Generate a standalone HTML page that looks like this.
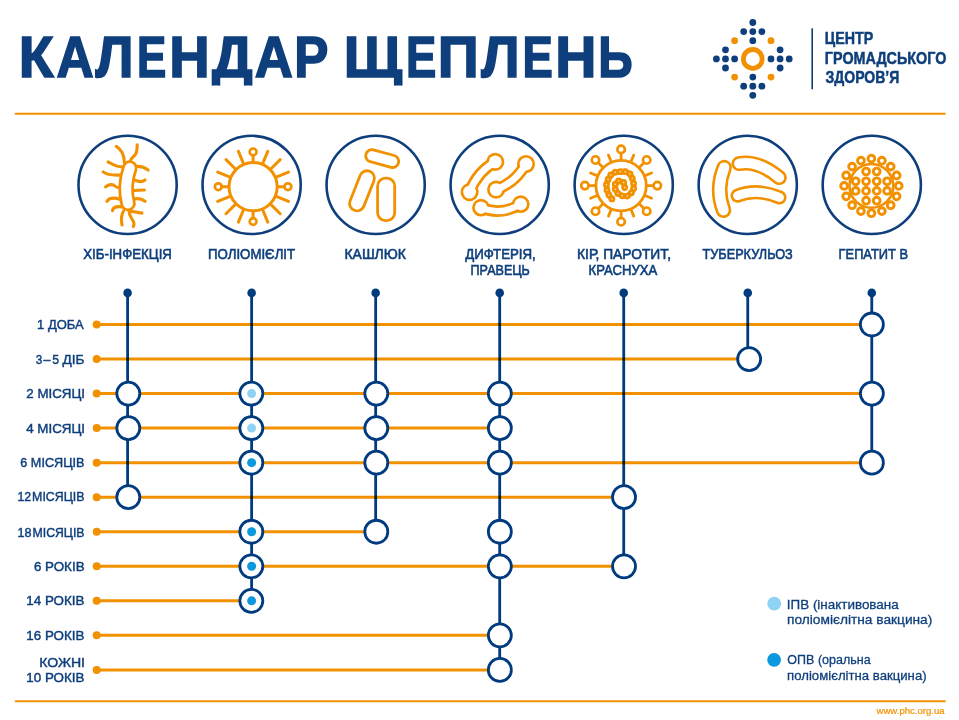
<!DOCTYPE html><html><head><meta charset="utf-8"><style>html,body{margin:0;padding:0;background:#fff;width:959px;height:720px;overflow:hidden}svg{display:block}text{font-family:"Liberation Sans",sans-serif}</style></head><body>
<svg width="959" height="720" viewBox="0 0 959 720">
<rect width="959" height="720" fill="#fff"/>
<defs><clipPath id="tc"><rect x="0" y="0" width="700" height="85.5"/></clipPath></defs>
<g clip-path="url(#tc)">
<text x="18.70" y="76.9" font-size="57" font-weight="bold" fill="#0e3f7c" stroke="#0e3f7c" stroke-width="1.6" textLength="34.85" lengthAdjust="spacingAndGlyphs">К</text>
<text x="56.47" y="76.9" font-size="57" font-weight="bold" fill="#0e3f7c" stroke="#0e3f7c" stroke-width="1.6" textLength="37.20" lengthAdjust="spacingAndGlyphs">А</text>
<text x="95.47" y="76.9" font-size="57" font-weight="bold" fill="#0e3f7c" stroke="#0e3f7c" stroke-width="1.6" textLength="37.97" lengthAdjust="spacingAndGlyphs">Л</text>
<text x="136.89" y="76.9" font-size="57" font-weight="bold" fill="#0e3f7c" stroke="#0e3f7c" stroke-width="1.6" textLength="29.28" lengthAdjust="spacingAndGlyphs">Е</text>
<text x="169.35" y="76.9" font-size="57" font-weight="bold" fill="#0e3f7c" stroke="#0e3f7c" stroke-width="1.6" textLength="40.46" lengthAdjust="spacingAndGlyphs">Н</text>
<text x="211.95" y="76.9" font-size="57" font-weight="bold" fill="#0e3f7c" stroke="#0e3f7c" stroke-width="1.6" textLength="40.66" lengthAdjust="spacingAndGlyphs">Д</text>
<text x="254.77" y="76.9" font-size="57" font-weight="bold" fill="#0e3f7c" stroke="#0e3f7c" stroke-width="1.6" textLength="38.11" lengthAdjust="spacingAndGlyphs">А</text>
<text x="294.21" y="76.9" font-size="57" font-weight="bold" fill="#0e3f7c" stroke="#0e3f7c" stroke-width="1.6" textLength="34.13" lengthAdjust="spacingAndGlyphs">Р</text>
<text x="343.68" y="76.9" font-size="57" font-weight="bold" fill="#0e3f7c" stroke="#0e3f7c" stroke-width="1.6" textLength="58.40" lengthAdjust="spacingAndGlyphs">Щ</text>
<text x="405.91" y="76.9" font-size="57" font-weight="bold" fill="#0e3f7c" stroke="#0e3f7c" stroke-width="1.6" textLength="30.30" lengthAdjust="spacingAndGlyphs">Е</text>
<text x="437.80" y="76.9" font-size="57" font-weight="bold" fill="#0e3f7c" stroke="#0e3f7c" stroke-width="1.6" textLength="40.97" lengthAdjust="spacingAndGlyphs">П</text>
<text x="481.28" y="76.9" font-size="57" font-weight="bold" fill="#0e3f7c" stroke="#0e3f7c" stroke-width="1.6" textLength="38.29" lengthAdjust="spacingAndGlyphs">Л</text>
<text x="522.61" y="76.9" font-size="57" font-weight="bold" fill="#0e3f7c" stroke="#0e3f7c" stroke-width="1.6" textLength="30.30" lengthAdjust="spacingAndGlyphs">Е</text>
<text x="555.30" y="76.9" font-size="57" font-weight="bold" fill="#0e3f7c" stroke="#0e3f7c" stroke-width="1.6" textLength="41.16" lengthAdjust="spacingAndGlyphs">Н</text>
<text x="598.28" y="76.9" font-size="57" font-weight="bold" fill="#0e3f7c" stroke="#0e3f7c" stroke-width="1.6" textLength="34.45" lengthAdjust="spacingAndGlyphs">Ь</text>
</g>
<text x="824.86" y="44.3" font-size="17" font-weight="bold" fill="#0e3f7c" stroke="#0e3f7c" stroke-width="0.5" textLength="48.35" lengthAdjust="spacingAndGlyphs">ЦЕНТР</text>
<text x="824.86" y="63.8" font-size="17" font-weight="bold" fill="#0e3f7c" stroke="#0e3f7c" stroke-width="0.5" textLength="121.47" lengthAdjust="spacingAndGlyphs">ГРОМАДСЬКОГО</text>
<text x="825.49" y="83.3" font-size="17" font-weight="bold" fill="#0e3f7c" stroke="#0e3f7c" stroke-width="0.5" textLength="73.86" lengthAdjust="spacingAndGlyphs">ЗДОРОВ’Я</text>
<text x="83.23" y="258.9" font-size="14.4" font-weight="normal" fill="#0e3f7c" stroke="#0e3f7c" stroke-width="0.6" textLength="88.68" lengthAdjust="spacingAndGlyphs">ХІБ-ІНФЕКЦІЯ</text>
<text x="208.06" y="258.9" font-size="14.4" font-weight="normal" fill="#0e3f7c" stroke="#0e3f7c" stroke-width="0.6" textLength="87.06" lengthAdjust="spacingAndGlyphs">ПОЛІОМІЄЛІТ</text>
<text x="344.54" y="258.9" font-size="14.4" font-weight="normal" fill="#0e3f7c" stroke="#0e3f7c" stroke-width="0.6" textLength="61.30" lengthAdjust="spacingAndGlyphs">КАШЛЮК</text>
<text x="465.23" y="258.9" font-size="14.4" font-weight="normal" fill="#0e3f7c" stroke="#0e3f7c" stroke-width="0.6" textLength="70.59" lengthAdjust="spacingAndGlyphs">ДИФТЕРІЯ,</text>
<text x="470.60" y="274.5" font-size="14.4" font-weight="normal" fill="#0e3f7c" stroke="#0e3f7c" stroke-width="0.6" textLength="59.26" lengthAdjust="spacingAndGlyphs">ПРАВЕЦЬ</text>
<text x="577.04" y="258.9" font-size="14.4" font-weight="normal" fill="#0e3f7c" stroke="#0e3f7c" stroke-width="0.6" textLength="93.97" lengthAdjust="spacingAndGlyphs">КІР, ПАРОТИТ,</text>
<text x="588.59" y="274.5" font-size="14.4" font-weight="normal" fill="#0e3f7c" stroke="#0e3f7c" stroke-width="0.6" textLength="68.65" lengthAdjust="spacingAndGlyphs">КРАСНУХА</text>
<text x="702.50" y="258.9" font-size="14.4" font-weight="normal" fill="#0e3f7c" stroke="#0e3f7c" stroke-width="0.6" textLength="90.26" lengthAdjust="spacingAndGlyphs">ТУБЕРКУЛЬОЗ</text>
<text x="838.61" y="258.9" font-size="14.4" font-weight="normal" fill="#0e3f7c" stroke="#0e3f7c" stroke-width="0.6" textLength="69.36" lengthAdjust="spacingAndGlyphs">ГЕПАТИТ В</text>
<text x="37.09" y="329.0" font-size="13.7" font-weight="normal" fill="#0e3f7c" stroke="#0e3f7c" stroke-width="0.45" textLength="46.61" lengthAdjust="spacingAndGlyphs">1 ДОБА</text>
<text x="26.31" y="398.08" font-size="13.7" font-weight="normal" fill="#0e3f7c" stroke="#0e3f7c" stroke-width="0.45" textLength="58.78" lengthAdjust="spacingAndGlyphs">2 МІСЯЦІ</text>
<text x="26.20" y="432.62" font-size="13.7" font-weight="normal" fill="#0e3f7c" stroke="#0e3f7c" stroke-width="0.45" textLength="58.89" lengthAdjust="spacingAndGlyphs">4 МІСЯЦІ</text>
<text x="20.34" y="467.15999999999997" font-size="13.7" font-weight="normal" fill="#0e3f7c" stroke="#0e3f7c" stroke-width="0.45" textLength="64.13" lengthAdjust="spacingAndGlyphs">6 МІСЯЦІВ</text>
<text x="33.91" y="570.78" font-size="13.7" font-weight="normal" fill="#0e3f7c" stroke="#0e3f7c" stroke-width="0.45" textLength="50.67" lengthAdjust="spacingAndGlyphs">6 РОКІВ</text>
<text x="26.37" y="605.3199999999999" font-size="13.7" font-weight="normal" fill="#0e3f7c" stroke="#0e3f7c" stroke-width="0.45" textLength="58.08" lengthAdjust="spacingAndGlyphs">14 РОКІВ</text>
<text x="26.37" y="639.86" font-size="13.7" font-weight="normal" fill="#0e3f7c" stroke="#0e3f7c" stroke-width="0.45" textLength="58.08" lengthAdjust="spacingAndGlyphs">16 РОКІВ</text>
<text x="35.69" y="363.54" font-size="13.7" font-weight="normal" fill="#0e3f7c" stroke="#0e3f7c" stroke-width="0.45" textLength="6.53" lengthAdjust="spacingAndGlyphs">3</text>
<text x="43.62" y="363.54" font-size="13.7" font-weight="normal" fill="#0e3f7c" stroke="#0e3f7c" stroke-width="0.45" textLength="6.86" lengthAdjust="spacingAndGlyphs">–</text>
<text x="52.28" y="363.54" font-size="13.7" font-weight="normal" fill="#0e3f7c" stroke="#0e3f7c" stroke-width="0.45" textLength="6.80" lengthAdjust="spacingAndGlyphs">5</text>
<text x="62.50" y="363.54" font-size="13.7" font-weight="normal" fill="#0e3f7c" stroke="#0e3f7c" stroke-width="0.45" textLength="21.97" lengthAdjust="spacingAndGlyphs">ДІБ</text>
<text x="17.43" y="501.4" font-size="13.7" font-weight="normal" fill="#0e3f7c" stroke="#0e3f7c" stroke-width="0.45" textLength="13.71" lengthAdjust="spacingAndGlyphs">12</text>
<text x="32.10" y="501.4" font-size="13.7" font-weight="normal" fill="#0e3f7c" stroke="#0e3f7c" stroke-width="0.45" textLength="52.43" lengthAdjust="spacingAndGlyphs">МІСЯЦІВ</text>
<text x="17.41" y="536.54" font-size="13.7" font-weight="normal" fill="#0e3f7c" stroke="#0e3f7c" stroke-width="0.45" textLength="14.04" lengthAdjust="spacingAndGlyphs">18</text>
<text x="32.50" y="536.54" font-size="13.7" font-weight="normal" fill="#0e3f7c" stroke="#0e3f7c" stroke-width="0.45" textLength="52.02" lengthAdjust="spacingAndGlyphs">МІСЯЦІВ</text>
<text x="39.17" y="666.6" font-size="13.7" font-weight="normal" fill="#0e3f7c" stroke="#0e3f7c" stroke-width="0.45" textLength="45.89" lengthAdjust="spacingAndGlyphs">КОЖНІ</text>
<text x="26.37" y="682" font-size="13.7" font-weight="normal" fill="#0e3f7c" stroke="#0e3f7c" stroke-width="0.45" textLength="58.08" lengthAdjust="spacingAndGlyphs">10 РОКІВ</text>
<text x="786.82" y="608.8" font-size="13.7" font-weight="normal" fill="#0e3f7c" stroke="#0e3f7c" stroke-width="0.3" textLength="111.87" lengthAdjust="spacingAndGlyphs">ІПВ (інактивована</text>
<text x="787.05" y="624.3" font-size="13.7" font-weight="normal" fill="#0e3f7c" stroke="#0e3f7c" stroke-width="0.3" textLength="145.28" lengthAdjust="spacingAndGlyphs">поліомієлітна вакцина)</text>
<text x="787.34" y="664.1" font-size="13.7" font-weight="normal" fill="#0e3f7c" stroke="#0e3f7c" stroke-width="0.3" textLength="83.29" lengthAdjust="spacingAndGlyphs">ОПВ (оральна</text>
<text x="787.08" y="679.7" font-size="13.7" font-weight="normal" fill="#0e3f7c" stroke="#0e3f7c" stroke-width="0.3" textLength="139.53" lengthAdjust="spacingAndGlyphs">поліомієлітна вакцина)</text>
<text x="876.50" y="714.1" font-size="9.5" font-weight="normal" fill="#f29100" stroke="#f29100" stroke-width="0.2" textLength="68.14" lengthAdjust="spacingAndGlyphs">www.phc.org.ua</text>
<circle cx="752.80" cy="22.50" r="3.4" fill="#0e3f7c"/>
<circle cx="743.70" cy="31.60" r="3.4" fill="#0e3f7c"/>
<circle cx="752.80" cy="31.60" r="3.4" fill="#0e3f7c"/>
<circle cx="761.90" cy="31.60" r="3.4" fill="#0e3f7c"/>
<circle cx="752.80" cy="40.70" r="3.4" fill="#0e3f7c"/>
<circle cx="725.50" cy="49.80" r="3.4" fill="#0e3f7c"/>
<circle cx="716.40" cy="58.90" r="3.4" fill="#0e3f7c"/>
<circle cx="725.50" cy="58.90" r="3.4" fill="#0e3f7c"/>
<circle cx="734.60" cy="58.90" r="3.4" fill="#0e3f7c"/>
<circle cx="725.50" cy="68.00" r="3.4" fill="#0e3f7c"/>
<circle cx="780.10" cy="49.80" r="3.4" fill="#0e3f7c"/>
<circle cx="771.00" cy="58.90" r="3.4" fill="#0e3f7c"/>
<circle cx="780.10" cy="58.90" r="3.4" fill="#0e3f7c"/>
<circle cx="789.20" cy="58.90" r="3.4" fill="#0e3f7c"/>
<circle cx="780.10" cy="68.00" r="3.4" fill="#0e3f7c"/>
<circle cx="752.80" cy="77.10" r="3.4" fill="#0e3f7c"/>
<circle cx="743.70" cy="86.20" r="3.4" fill="#0e3f7c"/>
<circle cx="752.80" cy="86.20" r="3.4" fill="#0e3f7c"/>
<circle cx="761.90" cy="86.20" r="3.4" fill="#0e3f7c"/>
<circle cx="752.80" cy="95.30" r="3.4" fill="#0e3f7c"/>
<circle cx="734.60" cy="40.70" r="3.4" fill="#f29100"/>
<circle cx="771.00" cy="40.70" r="3.4" fill="#f29100"/>
<circle cx="734.60" cy="77.10" r="3.4" fill="#f29100"/>
<circle cx="771.00" cy="77.10" r="3.4" fill="#f29100"/>
<circle cx="752.8" cy="58.9" r="9.4" fill="none" stroke="#f29100" stroke-width="4.8"/>
<rect x="811.4" y="28.3" width="1.6" height="61" fill="#0e3f7c"/>
<rect x="14.6" y="112.8" width="931.2" height="2" rx="1" fill="#f29100"/>
<rect x="14.6" y="700.2" width="931.2" height="2" rx="1" fill="#f29100"/>
<circle cx="127.60" cy="184.9" r="49.1" fill="none" stroke="#0e3f7c" stroke-width="2.6"/>
<circle cx="251.63" cy="184.9" r="49.1" fill="none" stroke="#0e3f7c" stroke-width="2.6"/>
<circle cx="375.66" cy="184.9" r="49.1" fill="none" stroke="#0e3f7c" stroke-width="2.6"/>
<circle cx="499.69" cy="184.9" r="49.1" fill="none" stroke="#0e3f7c" stroke-width="2.6"/>
<circle cx="623.72" cy="184.9" r="49.1" fill="none" stroke="#0e3f7c" stroke-width="2.6"/>
<circle cx="747.75" cy="184.9" r="49.1" fill="none" stroke="#0e3f7c" stroke-width="2.6"/>
<circle cx="871.78" cy="184.9" r="49.1" fill="none" stroke="#0e3f7c" stroke-width="2.6"/>
<g fill="none" stroke="#f29100" stroke-width="3.1" stroke-linecap="round">
<path d="M116.3,146.3 C121.5,150 124,154 124.5,163"/>
<path d="M137.2,144.7 C137.3,150 136,154.5 133.75,156.25 C131.5,158 130.5,159.5 130,162"/>
<path d="M108.1,161.9 C112,164 116,167 122,166.9"/>
<path d="M103.1,171.9 C107,175 112,175.5 121,175"/>
<path d="M105.6,186.9 C109,184 113,184 115,186 C117,188 118.5,188 120.5,188"/>
<path d="M106.9,201.3 C109,198 113,197 120.5,199.5"/>
<path d="M112.5,210.6 C113,207 116,206 122.5,206.9"/>
<path d="M133,167.5 C139,165 144,167 148.1,170"/>
<path d="M133.4,179.4 C138,182 142,182.5 145,180"/>
<path d="M132.5,190.6 C137,190.5 141,190 144.4,190"/>
<path d="M132.5,199.5 C137,198 142,199 145,201.3"/>
<path d="M130.5,211 C135,212 139,212.5 141.9,213.1"/>
<path d="M123.6,211 C121,215 121,220 122,225"/>
<path d="M129,211 C129.5,217 133,220 133.8,222.5 C134.2,224 133.8,225.5 133.3,226.5"/>
</g>
<path d="M129.8,168 Q123.5,186 128,203.4" fill="none" stroke="#f29100" stroke-width="15.60" stroke-linecap="round"/>
<path d="M129.8,168 Q123.5,186 128,203.4" fill="none" stroke="#fff" stroke-width="10.00" stroke-linecap="round"/>
<g fill="none" stroke="#f29100" stroke-width="3" stroke-linecap="round">
<circle cx="253.1" cy="186.7" r="24.1"/>
<line x1="253.10" y1="161.70" x2="253.10" y2="155.30"/>
<circle cx="253.10" cy="151.90" r="3.4" stroke-width="2.7"/>
<line x1="262.67" y1="163.60" x2="267.76" y2="151.32"/>
<line x1="270.78" y1="169.02" x2="280.18" y2="159.62"/>
<line x1="276.20" y1="177.13" x2="288.48" y2="172.04"/>
<line x1="278.10" y1="186.70" x2="284.50" y2="186.70"/>
<circle cx="287.90" cy="186.70" r="3.4" stroke-width="2.7"/>
<line x1="276.20" y1="196.27" x2="288.48" y2="201.36"/>
<line x1="270.78" y1="204.38" x2="280.18" y2="213.78"/>
<line x1="262.67" y1="209.80" x2="267.76" y2="222.08"/>
<line x1="253.10" y1="211.70" x2="253.10" y2="218.10"/>
<circle cx="253.10" cy="221.50" r="3.4" stroke-width="2.7"/>
<line x1="243.53" y1="209.80" x2="238.44" y2="222.08"/>
<line x1="235.42" y1="204.38" x2="226.02" y2="213.78"/>
<line x1="230.00" y1="196.27" x2="217.72" y2="201.36"/>
<line x1="228.10" y1="186.70" x2="221.70" y2="186.70"/>
<circle cx="218.30" cy="186.70" r="3.4" stroke-width="2.7"/>
<line x1="230.00" y1="177.13" x2="217.72" y2="172.04"/>
<line x1="235.42" y1="169.02" x2="226.02" y2="159.62"/>
<line x1="243.53" y1="163.60" x2="238.44" y2="151.32"/>
</g>
<path d="M371.80,155.80 L392.60,161.40" fill="none" stroke="#f29100" stroke-width="15.00" stroke-linecap="round"/>
<path d="M371.80,155.80 L392.60,161.40" fill="none" stroke="#fff" stroke-width="9.40" stroke-linecap="round"/>
<path d="M367.00,178.20 L357.00,203.40" fill="none" stroke="#f29100" stroke-width="17.60" stroke-linecap="round"/>
<path d="M367.00,178.20 L357.00,203.40" fill="none" stroke="#fff" stroke-width="12.00" stroke-linecap="round"/>
<rect x="377.6" y="178.2" width="17.1" height="42.4" rx="7.8" fill="#fff" stroke="#f29100" stroke-width="2.8"/>
<g><path d="M495.3,161.9 Q477.5,171.5 469.6,192.1" fill="none" stroke="#f29100" stroke-width="12.0"/>
<circle cx="495.3" cy="161.9" r="9.1" fill="#f29100"/><circle cx="469.6" cy="192.1" r="9.1" fill="#f29100"/>
<path d="M495.3,161.9 Q477.5,171.5 469.6,192.1" fill="none" stroke="#fff" stroke-width="6.6"/>
<circle cx="495.3" cy="161.9" r="6.3999999999999995" fill="#fff"/><circle cx="469.6" cy="192.1" r="6.3999999999999995" fill="#fff"/></g>
<g><path d="M526.0,164.0 Q515.0,183.0 496.1,189.6" fill="none" stroke="#f29100" stroke-width="12.0"/>
<circle cx="526.0" cy="164.0" r="9.1" fill="#f29100"/><circle cx="496.1" cy="189.6" r="9.1" fill="#f29100"/>
<path d="M526.0,164.0 Q515.0,183.0 496.1,189.6" fill="none" stroke="#fff" stroke-width="6.6"/>
<circle cx="526.0" cy="164.0" r="6.3999999999999995" fill="#fff"/><circle cx="496.1" cy="189.6" r="6.3999999999999995" fill="#fff"/></g>
<g><path d="M481.0,207.7 Q501.0,216.0 520.7,204.2" fill="none" stroke="#f29100" stroke-width="11.6"/>
<circle cx="481.0" cy="207.7" r="8.9" fill="#f29100"/><circle cx="520.7" cy="204.2" r="8.9" fill="#f29100"/>
<path d="M481.0,207.7 Q501.0,216.0 520.7,204.2" fill="none" stroke="#fff" stroke-width="6.199999999999999"/>
<circle cx="481.0" cy="207.7" r="6.2" fill="#fff"/><circle cx="520.7" cy="204.2" r="6.2" fill="#fff"/></g>
<g fill="none" stroke="#f29100" stroke-width="2.8" stroke-linecap="round">
<circle cx="621.1" cy="185.6" r="25.2"/>
<line x1="621.10" y1="159.60" x2="621.10" y2="153.30"/>
<circle cx="621.10" cy="149.40" r="3.75" stroke-width="2.6"/>
<line x1="631.05" y1="161.58" x2="633.73" y2="155.11"/>
<line x1="639.48" y1="167.22" x2="643.94" y2="162.76"/>
<circle cx="646.70" cy="160.00" r="3.75" stroke-width="2.6"/>
<line x1="645.12" y1="175.65" x2="651.59" y2="172.97"/>
<line x1="647.10" y1="185.60" x2="653.40" y2="185.60"/>
<circle cx="657.30" cy="185.60" r="3.75" stroke-width="2.6"/>
<line x1="645.12" y1="195.55" x2="651.59" y2="198.23"/>
<line x1="639.48" y1="203.98" x2="643.94" y2="208.44"/>
<circle cx="646.70" cy="211.20" r="3.75" stroke-width="2.6"/>
<line x1="631.05" y1="209.62" x2="633.73" y2="216.09"/>
<line x1="621.10" y1="211.60" x2="621.10" y2="217.90"/>
<circle cx="621.10" cy="221.80" r="3.75" stroke-width="2.6"/>
<line x1="611.15" y1="209.62" x2="608.47" y2="216.09"/>
<line x1="602.72" y1="203.98" x2="598.26" y2="208.44"/>
<circle cx="595.50" cy="211.20" r="3.75" stroke-width="2.6"/>
<line x1="597.08" y1="195.55" x2="590.61" y2="198.23"/>
<line x1="595.10" y1="185.60" x2="588.80" y2="185.60"/>
<circle cx="584.90" cy="185.60" r="3.75" stroke-width="2.6"/>
<line x1="597.08" y1="175.65" x2="590.61" y2="172.97"/>
<line x1="602.72" y1="167.22" x2="598.26" y2="162.76"/>
<circle cx="595.50" cy="160.00" r="3.75" stroke-width="2.6"/>
<line x1="611.15" y1="161.58" x2="608.47" y2="155.11"/>
</g>
<path d="M611.94,198.89 L608.89,195.00 L606.94,190.00 L606.39,184.72 L608.06,179.44 L610.83,175.00 L615.28,172.22 L620.28,171.67 L625.28,171.67 L630.00,173.89 L632.22,178.33 L633.61,183.61 L633.61,188.61 L631.39,192.78 L627.22,196.11 L622.22,195.83 L617.78,193.33 L615.28,189.17 L615.28,184.17 L618.61,180.83 L623.61,182.50 L624.72,187.50" fill="none" stroke="#f29100" stroke-width="5.6" stroke-linecap="round" stroke-linejoin="round"/>
<circle cx="611.94" cy="198.89" r="3.4" fill="#f29100"/>
<circle cx="608.89" cy="195.00" r="3.4" fill="#f29100"/>
<circle cx="606.94" cy="190.00" r="3.4" fill="#f29100"/>
<circle cx="606.39" cy="184.72" r="3.4" fill="#f29100"/>
<circle cx="608.06" cy="179.44" r="3.4" fill="#f29100"/>
<circle cx="610.83" cy="175.00" r="3.4" fill="#f29100"/>
<circle cx="615.28" cy="172.22" r="3.4" fill="#f29100"/>
<circle cx="620.28" cy="171.67" r="3.4" fill="#f29100"/>
<circle cx="625.28" cy="171.67" r="3.4" fill="#f29100"/>
<circle cx="630.00" cy="173.89" r="3.4" fill="#f29100"/>
<circle cx="632.22" cy="178.33" r="3.4" fill="#f29100"/>
<circle cx="633.61" cy="183.61" r="3.4" fill="#f29100"/>
<circle cx="633.61" cy="188.61" r="3.4" fill="#f29100"/>
<circle cx="631.39" cy="192.78" r="3.4" fill="#f29100"/>
<circle cx="627.22" cy="196.11" r="3.4" fill="#f29100"/>
<circle cx="622.22" cy="195.83" r="3.4" fill="#f29100"/>
<circle cx="617.78" cy="193.33" r="3.4" fill="#f29100"/>
<circle cx="615.28" cy="189.17" r="3.4" fill="#f29100"/>
<circle cx="615.28" cy="184.17" r="3.4" fill="#f29100"/>
<circle cx="618.61" cy="180.83" r="3.4" fill="#f29100"/>
<circle cx="623.61" cy="182.50" r="3.4" fill="#f29100"/>
<circle cx="624.72" cy="187.50" r="3.4" fill="#f29100"/>
<circle cx="611.94" cy="198.89" r="0.75" fill="#fff" fill-opacity="0.8"/>
<circle cx="608.89" cy="195.00" r="0.75" fill="#fff" fill-opacity="0.8"/>
<circle cx="606.94" cy="190.00" r="0.75" fill="#fff" fill-opacity="0.8"/>
<circle cx="606.39" cy="184.72" r="0.75" fill="#fff" fill-opacity="0.8"/>
<circle cx="608.06" cy="179.44" r="0.75" fill="#fff" fill-opacity="0.8"/>
<circle cx="610.83" cy="175.00" r="0.75" fill="#fff" fill-opacity="0.8"/>
<circle cx="615.28" cy="172.22" r="0.75" fill="#fff" fill-opacity="0.8"/>
<circle cx="620.28" cy="171.67" r="0.75" fill="#fff" fill-opacity="0.8"/>
<circle cx="625.28" cy="171.67" r="0.75" fill="#fff" fill-opacity="0.8"/>
<circle cx="630.00" cy="173.89" r="0.75" fill="#fff" fill-opacity="0.8"/>
<circle cx="632.22" cy="178.33" r="0.75" fill="#fff" fill-opacity="0.8"/>
<circle cx="633.61" cy="183.61" r="0.75" fill="#fff" fill-opacity="0.8"/>
<circle cx="633.61" cy="188.61" r="0.75" fill="#fff" fill-opacity="0.8"/>
<circle cx="631.39" cy="192.78" r="0.75" fill="#fff" fill-opacity="0.8"/>
<circle cx="627.22" cy="196.11" r="0.75" fill="#fff" fill-opacity="0.8"/>
<circle cx="622.22" cy="195.83" r="0.75" fill="#fff" fill-opacity="0.8"/>
<circle cx="617.78" cy="193.33" r="0.75" fill="#fff" fill-opacity="0.8"/>
<circle cx="615.28" cy="189.17" r="0.75" fill="#fff" fill-opacity="0.8"/>
<circle cx="615.28" cy="184.17" r="0.75" fill="#fff" fill-opacity="0.8"/>
<circle cx="618.61" cy="180.83" r="0.75" fill="#fff" fill-opacity="0.8"/>
<circle cx="623.61" cy="182.50" r="0.75" fill="#fff" fill-opacity="0.8"/>
<circle cx="624.72" cy="187.50" r="0.75" fill="#fff" fill-opacity="0.8"/>
<path d="M724.2,167.6 Q715.5,188.9 723.5,210.2" fill="none" stroke="#f29100" stroke-width="15.60" stroke-linecap="round"/>
<path d="M724.2,167.6 Q715.5,188.9 723.5,210.2" fill="none" stroke="#fff" stroke-width="10.40" stroke-linecap="round"/>
<path d="M739,163.6 Q758,160 779.3,177.6" fill="none" stroke="#f29100" stroke-width="15.00" stroke-linecap="round"/>
<path d="M739,163.6 Q758,160 779.3,177.6" fill="none" stroke="#fff" stroke-width="9.80" stroke-linecap="round"/>
<path d="M737.6,195.6 Q757,188 779.4,197.4" fill="none" stroke="#f29100" stroke-width="14.20" stroke-linecap="round"/>
<path d="M737.6,195.6 Q757,188 779.4,197.4" fill="none" stroke="#fff" stroke-width="9.00" stroke-linecap="round"/>
<g fill="none" stroke="#f29100" stroke-width="2.9">
<circle cx="871.4" cy="185.9" r="21.9" stroke-width="2.6"/>
<circle cx="871.40" cy="158.60" r="3.4" fill="#fff"/>
<circle cx="881.85" cy="160.68" r="3.4" fill="#fff"/>
<circle cx="890.70" cy="166.60" r="3.4" fill="#fff"/>
<circle cx="896.62" cy="175.45" r="3.4" fill="#fff"/>
<circle cx="898.70" cy="185.90" r="3.4" fill="#fff"/>
<circle cx="896.62" cy="196.35" r="3.4" fill="#fff"/>
<circle cx="890.70" cy="205.20" r="3.4" fill="#fff"/>
<circle cx="881.85" cy="211.12" r="3.4" fill="#fff"/>
<circle cx="871.40" cy="213.20" r="3.4" fill="#fff"/>
<circle cx="860.95" cy="211.12" r="3.4" fill="#fff"/>
<circle cx="852.10" cy="205.20" r="3.4" fill="#fff"/>
<circle cx="846.18" cy="196.35" r="3.4" fill="#fff"/>
<circle cx="844.10" cy="185.90" r="3.4" fill="#fff"/>
<circle cx="846.18" cy="175.45" r="3.4" fill="#fff"/>
<circle cx="852.10" cy="166.60" r="3.4" fill="#fff"/>
<circle cx="860.95" cy="160.68" r="3.4" fill="#fff"/>
<circle cx="866.10" cy="171.50" r="3.4" fill="#fff"/>
<circle cx="876.70" cy="171.50" r="3.4" fill="#fff"/>
<circle cx="855.70" cy="181.30" r="3.4" fill="#fff"/>
<circle cx="866.10" cy="181.30" r="3.4" fill="#fff"/>
<circle cx="876.70" cy="181.30" r="3.4" fill="#fff"/>
<circle cx="887.10" cy="181.30" r="3.4" fill="#fff"/>
<circle cx="855.70" cy="190.90" r="3.4" fill="#fff"/>
<circle cx="866.10" cy="190.90" r="3.4" fill="#fff"/>
<circle cx="876.70" cy="190.90" r="3.4" fill="#fff"/>
<circle cx="887.10" cy="190.90" r="3.4" fill="#fff"/>
<circle cx="866.10" cy="200.70" r="3.4" fill="#fff"/>
<circle cx="876.70" cy="200.70" r="3.4" fill="#fff"/>
</g>
<line x1="96.7" y1="324.50" x2="871.78" y2="324.50" stroke="#f29100" stroke-width="3"/>
<circle cx="96.7" cy="324.50" r="4" fill="#f29100"/>
<line x1="96.7" y1="359.04" x2="747.75" y2="359.04" stroke="#f29100" stroke-width="3"/>
<circle cx="96.7" cy="359.04" r="4" fill="#f29100"/>
<line x1="96.7" y1="393.58" x2="871.78" y2="393.58" stroke="#f29100" stroke-width="3"/>
<circle cx="96.7" cy="393.58" r="4" fill="#f29100"/>
<line x1="96.7" y1="428.12" x2="499.69" y2="428.12" stroke="#f29100" stroke-width="3"/>
<circle cx="96.7" cy="428.12" r="4" fill="#f29100"/>
<line x1="96.7" y1="462.66" x2="871.78" y2="462.66" stroke="#f29100" stroke-width="3"/>
<circle cx="96.7" cy="462.66" r="4" fill="#f29100"/>
<line x1="96.7" y1="497.20" x2="623.72" y2="497.20" stroke="#f29100" stroke-width="3"/>
<circle cx="96.7" cy="497.20" r="4" fill="#f29100"/>
<line x1="96.7" y1="531.74" x2="375.66" y2="531.74" stroke="#f29100" stroke-width="3"/>
<circle cx="96.7" cy="531.74" r="4" fill="#f29100"/>
<line x1="96.7" y1="566.28" x2="623.72" y2="566.28" stroke="#f29100" stroke-width="3"/>
<circle cx="96.7" cy="566.28" r="4" fill="#f29100"/>
<line x1="96.7" y1="600.82" x2="251.63" y2="600.82" stroke="#f29100" stroke-width="3"/>
<circle cx="96.7" cy="600.82" r="4" fill="#f29100"/>
<line x1="96.7" y1="635.36" x2="499.69" y2="635.36" stroke="#f29100" stroke-width="3"/>
<circle cx="96.7" cy="635.36" r="4" fill="#f29100"/>
<line x1="96.7" y1="669.90" x2="499.69" y2="669.90" stroke="#f29100" stroke-width="3"/>
<circle cx="96.7" cy="669.90" r="4" fill="#f29100"/>
<g style="mix-blend-mode:multiply">
<line x1="127.60" y1="292.9" x2="127.60" y2="497.20" stroke="#003b80" stroke-width="2.8"/>
<line x1="251.63" y1="292.9" x2="251.63" y2="600.82" stroke="#003b80" stroke-width="2.8"/>
<line x1="375.66" y1="292.9" x2="375.66" y2="531.74" stroke="#003b80" stroke-width="2.8"/>
<line x1="499.69" y1="292.9" x2="499.69" y2="669.90" stroke="#003b80" stroke-width="2.8"/>
<line x1="623.72" y1="292.9" x2="623.72" y2="566.28" stroke="#003b80" stroke-width="2.8"/>
<line x1="747.75" y1="292.9" x2="747.75" y2="359.04" stroke="#003b80" stroke-width="2.8"/>
<line x1="871.78" y1="292.9" x2="871.78" y2="462.66" stroke="#003b80" stroke-width="2.8"/>
</g>
<circle cx="127.60" cy="292.9" r="4.3" fill="#003b80"/>
<circle cx="128.30" cy="393.58" r="11.5" fill="#fff" stroke="#003b80" stroke-width="2.8"/>
<circle cx="128.30" cy="428.12" r="11.5" fill="#fff" stroke="#003b80" stroke-width="2.8"/>
<circle cx="128.30" cy="497.20" r="11.5" fill="#fff" stroke="#003b80" stroke-width="2.8"/>
<circle cx="251.63" cy="292.9" r="4.3" fill="#003b80"/>
<circle cx="251.33" cy="393.58" r="11.5" fill="#fff" stroke="#003b80" stroke-width="2.8"/>
<circle cx="251.63" cy="393.58" r="4.5" fill="#8fd3f4"/>
<circle cx="251.33" cy="428.12" r="11.5" fill="#fff" stroke="#003b80" stroke-width="2.8"/>
<circle cx="251.63" cy="428.12" r="4.5" fill="#8fd3f4"/>
<circle cx="251.33" cy="462.66" r="11.5" fill="#fff" stroke="#003b80" stroke-width="2.8"/>
<circle cx="251.63" cy="462.66" r="4.5" fill="#0b98de"/>
<circle cx="251.33" cy="531.74" r="11.5" fill="#fff" stroke="#003b80" stroke-width="2.8"/>
<circle cx="251.63" cy="531.74" r="4.5" fill="#0b98de"/>
<circle cx="251.33" cy="566.28" r="11.5" fill="#fff" stroke="#003b80" stroke-width="2.8"/>
<circle cx="251.63" cy="566.28" r="4.5" fill="#0b98de"/>
<circle cx="251.33" cy="600.82" r="11.5" fill="#fff" stroke="#003b80" stroke-width="2.8"/>
<circle cx="251.63" cy="600.82" r="4.5" fill="#0b98de"/>
<circle cx="375.66" cy="292.9" r="4.3" fill="#003b80"/>
<circle cx="376.31" cy="393.58" r="11.5" fill="#fff" stroke="#003b80" stroke-width="2.8"/>
<circle cx="376.31" cy="428.12" r="11.5" fill="#fff" stroke="#003b80" stroke-width="2.8"/>
<circle cx="376.31" cy="462.66" r="11.5" fill="#fff" stroke="#003b80" stroke-width="2.8"/>
<circle cx="376.31" cy="531.74" r="11.5" fill="#fff" stroke="#003b80" stroke-width="2.8"/>
<circle cx="499.69" cy="292.9" r="4.3" fill="#003b80"/>
<circle cx="499.84" cy="393.58" r="11.5" fill="#fff" stroke="#003b80" stroke-width="2.8"/>
<circle cx="499.84" cy="428.12" r="11.5" fill="#fff" stroke="#003b80" stroke-width="2.8"/>
<circle cx="499.84" cy="462.66" r="11.5" fill="#fff" stroke="#003b80" stroke-width="2.8"/>
<circle cx="499.84" cy="531.74" r="11.5" fill="#fff" stroke="#003b80" stroke-width="2.8"/>
<circle cx="499.84" cy="566.28" r="11.5" fill="#fff" stroke="#003b80" stroke-width="2.8"/>
<circle cx="499.84" cy="635.36" r="11.5" fill="#fff" stroke="#003b80" stroke-width="2.8"/>
<circle cx="499.84" cy="669.90" r="11.5" fill="#fff" stroke="#003b80" stroke-width="2.8"/>
<circle cx="623.72" cy="292.9" r="4.3" fill="#003b80"/>
<circle cx="624.02" cy="497.20" r="11.5" fill="#fff" stroke="#003b80" stroke-width="2.8"/>
<circle cx="624.02" cy="566.28" r="11.5" fill="#fff" stroke="#003b80" stroke-width="2.8"/>
<circle cx="747.75" cy="292.9" r="4.3" fill="#003b80"/>
<circle cx="749.15" cy="359.04" r="11.5" fill="#fff" stroke="#003b80" stroke-width="2.8"/>
<circle cx="871.78" cy="292.9" r="4.3" fill="#003b80"/>
<circle cx="871.88" cy="324.50" r="11.5" fill="#fff" stroke="#003b80" stroke-width="2.8"/>
<circle cx="871.88" cy="393.58" r="11.5" fill="#fff" stroke="#003b80" stroke-width="2.8"/>
<circle cx="871.88" cy="462.66" r="11.5" fill="#fff" stroke="#003b80" stroke-width="2.8"/>
<circle cx="774.2" cy="603.7" r="6.9" fill="#8fd3f4"/>
<circle cx="774.1" cy="659.8" r="6.9" fill="#0b98de"/>
</svg></body></html>
